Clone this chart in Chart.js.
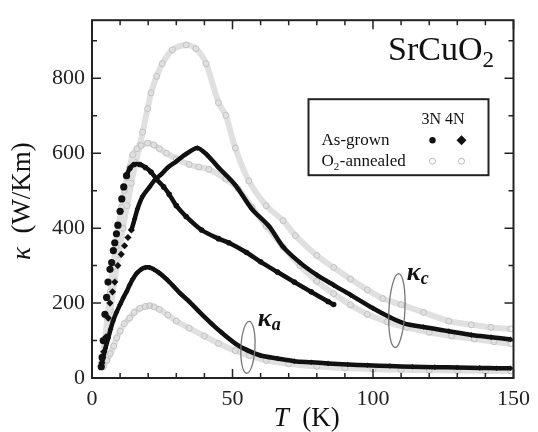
<!DOCTYPE html>
<html>
<head>
<meta charset="utf-8">
<script src="https://cdn.jsdelivr.net/npm/chart.js@4/dist/chart.umd.min.js"></script>
<style>
  html, body { margin: 0; padding: 0; background: #fff; }
  #wrap { width: 538px; height: 432px; }
</style>
</head>
<body>
<div id="wrap"><canvas id="kappaChart" width="538" height="432"></canvas></div>
<script>
// kappa_c, 3N as-grown (filled circles)
const temp3NGrownC = [3.3, 3.6, 4.0, 4.6, 5.2, 5.7, 6.4, 7.0, 7.6, 8.1, 8.7, 9.2, 10.0, 10.6, 11.3, 12.3, 13.5, 15.0, 17.0, 19.0, 21.0, 23.0, 25.5, 27.5, 30.0, 33.5, 39.0, 45.0, 48.7, 55.0, 60.0, 66.0, 72.0, 78.0, 84.0, 86.0];
const kappa3NGrownC = [30, 55, 100, 170, 215, 256, 290, 308, 340, 361, 385, 408, 445, 478, 510, 540, 560, 570, 570, 562, 550, 530, 510, 490, 460, 431, 395, 372, 361, 335, 310, 283, 256, 230, 204, 196];

// kappa_c, 4N as-grown (filled diamonds)
const temp4NGrownC = [3.5, 4.2, 5.0, 5.8, 6.4, 7.3, 8.1, 9.2, 10.4, 11.6, 12.8, 14.0, 15.2, 16.2, 18.0, 20.5, 22.5, 24.7, 27.0, 30.0, 33.5, 37.5, 41.0, 45.0, 51.0, 57.0, 63.0, 68.0, 74.0, 80.0, 86.0, 92.0, 100.0, 106.0, 111.0, 118.0, 127.0, 135.0, 142.0, 149.0];
const kappa4NGrownC = [40, 70, 110, 160, 200, 230, 256, 300, 330, 353, 375, 395, 425, 452, 485, 510, 530, 544, 562, 578, 598, 614, 595, 562, 515, 450, 405, 350, 308, 275, 248, 222, 186, 162, 146, 136, 125, 115, 109, 103];

// kappa_c, 3N O2-annealed (open circles)
const temp3NAnnealC = [3.5, 4.5, 5.5, 6.5, 7.5, 8.5, 9.5, 10.5, 11.5, 12.5, 13.4, 14.5, 16.0, 17.5, 19.8, 22.0, 24.0, 26.5, 30.0, 34.6, 38.0, 41.6, 47.6, 52.0, 57.0, 62.0, 68.0, 74.0, 80.0, 86.0, 92.0, 98.0, 105.0, 112.0, 120.0, 128.0, 136.0, 143.0, 149.0];
const kappa3NAnnealC = [45, 95, 160, 230, 295, 350, 405, 455, 500, 535, 562, 596, 612, 620, 627, 622, 612, 600, 585, 570, 563, 557, 531, 505, 455, 405, 350, 300, 258, 225, 195, 170, 150, 135, 122, 112, 104, 97, 92];

// kappa_c, 4N O2-annealed (open diamonds)
const temp4NAnnealC = [3.5, 5.0, 6.5, 8.0, 9.5, 11.0, 12.5, 14.0, 15.5, 17.0, 18.0, 19.8, 21.0, 23.0, 25.0, 28.6, 33.5, 37.0, 40.6, 45.0, 47.6, 51.0, 55.8, 62.0, 68.0, 72.4, 80.0, 86.0, 92.0, 98.0, 103.5, 110.0, 118.0, 127.0, 135.0, 142.0, 149.0];
const kappa4NAnnealC = [40, 100, 180, 260, 330, 400, 460, 520, 575, 620, 656, 719, 761, 805, 839, 876, 889, 879, 839, 735, 701, 614, 526, 460, 420, 380, 327, 295, 264, 235, 212, 196, 175, 152, 142, 135, 131];

// kappa_a, as-grown
const tempGrownA = [3.3, 4.0, 4.8, 5.8, 6.6, 7.5, 8.7, 10.0, 11.2, 12.3, 13.4, 14.5, 16.0, 17.5, 19.0, 20.5, 22.0, 24.0, 26.5, 29.0, 31.5, 34.6, 38.0, 42.7, 46.0, 51.0, 55.0, 60.0, 66.0, 72.0, 78.0, 84.0, 91.0, 98.0, 106.0, 114.0, 122.0, 130.0, 138.0, 144.0, 149.0];
const kappaGrownA = [30, 55, 80, 107, 130, 152, 175, 196, 215, 230, 248, 264, 280, 290, 295, 295, 290, 280, 264, 245, 225, 204, 178, 144, 122, 92, 75, 60, 52, 45, 42, 39, 36, 34, 32, 30, 29, 28, 27, 26, 26];

// kappa_a, O2-annealed
const tempAnnealA = [4.0, 5.3, 6.5, 7.7, 8.8, 10.0, 11.5, 13.4, 15.0, 17.0, 19.0, 20.5, 22.0, 24.0, 27.0, 30.0, 34.6, 40.0, 45.0, 51.0, 56.0, 62.0, 70.0, 80.0, 90.0, 100.0, 110.0, 120.0, 130.0, 140.0, 149.0];
const kappaAnnealA = [30, 47, 65, 85, 107, 125, 145, 160, 175, 186, 191, 193, 190, 183, 168, 152, 133, 112, 92, 73, 60, 47, 38, 31, 27, 24, 22, 21, 20, 19, 19];

// axis ticks
const xMajorTicks = [0, 50, 100, 150];
const yMajorTicks = [0, 200, 400, 600, 800];

const SERIF = '"Liberation Serif", "DejaVu Serif", serif';

function toPoints(xs, ys) {
  return xs.map((x, i) => ({ x: x, y: ys[i] }));
}

// dotsBelow: below this temperature only the markers are drawn (sparse points)
function grownSet(xs, ys, style, dotsBelow) {
  return {
    data: toPoints(xs, ys),
    showLine: true,
    borderColor: '#111',
    borderWidth: 4.5,
    backgroundColor: '#111',
    pointStyle: style,
    pointRadius: ctx => (ctx.raw && ctx.raw.x < dotsBelow) ? 3.6 : 2.8,
    pointBorderWidth: 0,
    tension: 0.3,
    segment: {
      borderColor: ctx => ctx.p1.parsed.x <= dotsBelow ? 'rgba(0,0,0,0)' : undefined
    },
    order: 1
  };
}

function annealSet(xs, ys, style) {
  return {
    data: toPoints(xs, ys),
    showLine: true,
    borderColor: '#e0e0e0',
    borderWidth: 6,
    backgroundColor: 'rgba(255,255,255,0)',
    pointStyle: style,
    pointRadius: 3,
    pointBorderColor: '#c2c2c2',
    pointBorderWidth: 1,
    tension: 0.3,
    order: 2
  };
}

// frame, inward ticks, labels and legend box
const decorPlugin = {
  id: 'decor',
  afterDraw(chart) {
    const ctx = chart.ctx;
    const a = chart.chartArea;
    const xs = chart.scales.x;
    const ys = chart.scales.y;
    ctx.save();

    // frame
    ctx.strokeStyle = '#222';
    ctx.lineWidth = 2;
    ctx.strokeRect(a.left, a.top, a.right - a.left, a.bottom - a.top);

    // inward ticks
    ctx.lineWidth = 1.5;
    for (let t = 0; t <= 150; t += 10) {
      const px = xs.getPixelForValue(t);
      const len = (t % 50 === 0) ? 9 : 5;
      ctx.beginPath();
      ctx.moveTo(px, a.bottom); ctx.lineTo(px, a.bottom - len);
      ctx.moveTo(px, a.top); ctx.lineTo(px, a.top + len);
      ctx.stroke();
    }
    for (let k = 0; k <= 900; k += 100) {
      const py = ys.getPixelForValue(k);
      const len = (k % 200 === 0) ? 9 : 5;
      ctx.beginPath();
      ctx.moveTo(a.left, py); ctx.lineTo(a.left + len, py);
      ctx.moveTo(a.right, py); ctx.lineTo(a.right - len, py);
      ctx.stroke();
    }

    ctx.fillStyle = '#111';
    ctx.textBaseline = 'alphabetic';

    // x axis title
    ctx.textAlign = 'left';
    const xt = (a.left + a.right) / 2 + 4;
    ctx.font = 'italic 27px ' + SERIF;
    const tW = ctx.measureText('T').width;
    ctx.font = '27px ' + SERIF;
    const kW = ctx.measureText('  (K)').width;
    let x0 = xt - (tW + kW) / 2;
    ctx.font = 'italic 27px ' + SERIF;
    ctx.fillText('T', x0, 426);
    ctx.font = '27px ' + SERIF;
    ctx.fillText('  (K)', x0 + tW, 426);

    // y axis title (rotated)
    ctx.save();
    ctx.translate(30, (a.top + a.bottom) / 2 + 2);
    ctx.rotate(-Math.PI / 2);
    ctx.font = 'italic 27px ' + SERIF;
    const kapW = ctx.measureText('\u03ba').width;
    ctx.font = '27px ' + SERIF;
    const unitW = ctx.measureText('  (W/Km)').width;
    x0 = -(kapW + unitW) / 2;
    ctx.font = 'italic 27px ' + SERIF;
    ctx.fillText('\u03ba', x0, 0);
    ctx.font = '27px ' + SERIF;
    ctx.fillText('  (W/Km)', x0 + kapW, 0);
    ctx.restore();

    // compound name
    ctx.font = '34px ' + SERIF;
    ctx.textAlign = 'left';
    const nameW = ctx.measureText('SrCuO').width;
    const nx = a.right - 17 - nameW - 14;
    ctx.fillText('SrCuO', nx, 60);
    ctx.font = '23px ' + SERIF;
    ctx.fillText('2', nx + nameW, 67);

    // legend box
    const bx = a.right - 205, by = a.top + 79, bw = 180, bh = 76;
    ctx.lineWidth = 2;
    ctx.strokeStyle = '#222';
    ctx.strokeRect(bx, by, bw, bh);
    ctx.font = '16px ' + SERIF;
    ctx.fillText('3N 4N', bx + 113, by + 25);
    ctx.font = '17px ' + SERIF;
    ctx.fillText('As-grown', bx + 13, by + 46);
    ctx.fillText('O', bx + 13, by + 67);
    const oW = ctx.measureText('O').width;
    ctx.font = '11px ' + SERIF;
    ctx.fillText('2', bx + 13 + oW, by + 71);
    ctx.font = '17px ' + SERIF;
    ctx.fillText('-annealed', bx + 13 + oW + 6, by + 67);

    const m1 = bx + 124, m2 = bx + 153;
    ctx.fillStyle = '#111';
    ctx.beginPath(); ctx.arc(m1, by + 41, 3.2, 0, Math.PI * 2); ctx.fill();
    ctx.beginPath();
    ctx.moveTo(m2, by + 36); ctx.lineTo(m2 + 5, by + 41); ctx.lineTo(m2, by + 46); ctx.lineTo(m2 - 5, by + 41);
    ctx.closePath(); ctx.fill();
    ctx.strokeStyle = '#bbb';
    ctx.lineWidth = 1;
    ctx.beginPath(); ctx.arc(m1, by + 62, 3, 0, Math.PI * 2); ctx.stroke();
    ctx.beginPath(); ctx.arc(m2, by + 62, 3, 0, Math.PI * 2); ctx.stroke();

    // kappa_c / kappa_a labels with ellipses
    ctx.strokeStyle = '#777';
    ctx.lineWidth = 1.3;
    ctx.beginPath();
    ctx.ellipse(xs.getPixelForValue(108.5), ys.getPixelForValue(180), 8, 37, 0.05, 0, Math.PI * 2);
    ctx.stroke();
    ctx.beginPath();
    ctx.ellipse(xs.getPixelForValue(55.5), ys.getPixelForValue(82), 7, 26, 0.05, 0, Math.PI * 2);
    ctx.stroke();

    ctx.fillStyle = '#111';
    ctx.font = 'italic bold 26px ' + SERIF;
    ctx.fillText('\u03ba', xs.getPixelForValue(112), ys.getPixelForValue(262));
    ctx.font = 'italic bold 18px ' + SERIF;
    ctx.fillText('c', xs.getPixelForValue(112) + 14, ys.getPixelForValue(250));
    ctx.font = 'italic bold 26px ' + SERIF;
    ctx.fillText('\u03ba', xs.getPixelForValue(59), ys.getPixelForValue(140));
    ctx.font = 'italic bold 18px ' + SERIF;
    ctx.fillText('a', xs.getPixelForValue(59) + 14, ys.getPixelForValue(128));

    ctx.restore();
  }
};

const chart = new Chart(document.getElementById('kappaChart'), {
  type: 'scatter',
  data: {
    datasets: [
      grownSet(temp3NGrownC, kappa3NGrownC, 'circle', 13),
      grownSet(temp4NGrownC, kappa4NGrownC, 'rectRot', 15),
      grownSet(tempGrownA, kappaGrownA, 'rectRot', 0),
      annealSet(temp3NAnnealC, kappa3NAnnealC, 'circle'),
      annealSet(temp4NAnnealC, kappa4NAnnealC, 'circle'),
      annealSet(tempAnnealA, kappaAnnealA, 'circle')
    ]
  },
  options: {
    responsive: false,
    animation: false,
    layout: { padding: { top: 13, right: 21, left: 0, bottom: 0 } },
    plugins: {
      legend: { display: false },
      tooltip: { enabled: false }
    },
    scales: {
      x: {
        type: 'linear',
        min: 0,
        max: 150,
        grid: { display: false, drawTicks: false },
        border: { display: false },
        afterFit(scale) { scale.height = 54; },
        ticks: {
          stepSize: 50,
          padding: 8,
          maxRotation: 0,
          color: '#222',
          font: { family: SERIF, size: 22 },
          callback: v => xMajorTicks.includes(v) ? v : ''
        }
      },
      y: {
        type: 'linear',
        min: 0,
        max: 955,
        grid: { display: false, drawTicks: false },
        border: { display: false },
        afterFit(scale) { scale.width = 92; },
        ticks: {
          stepSize: 100,
          padding: 7,
          color: '#222',
          font: { family: SERIF, size: 22 },
          callback: v => yMajorTicks.includes(v) ? v : ''
        }
      }
    }
  },
  plugins: [decorPlugin]
});
</script>
</body>
</html>
